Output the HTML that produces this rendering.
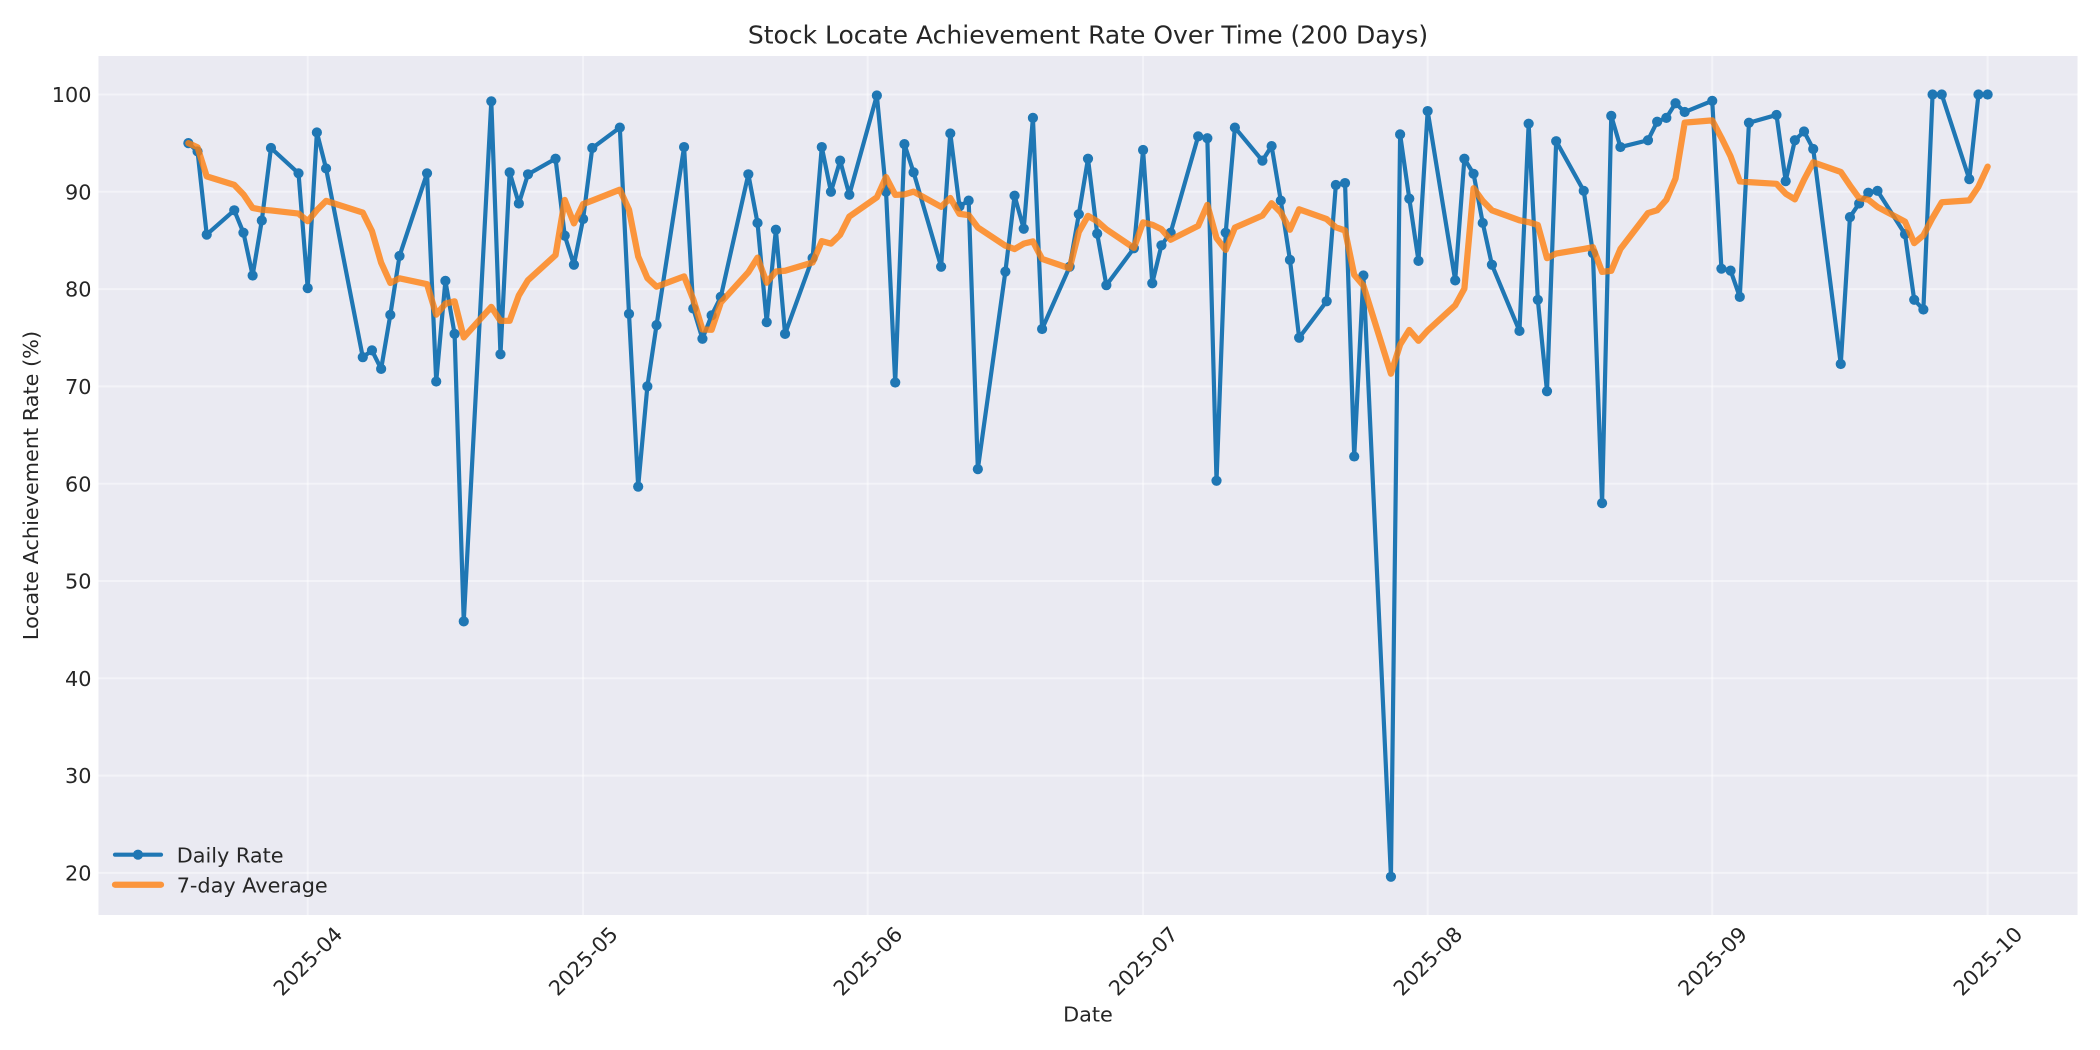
<!DOCTYPE html>
<html>
<head>
<meta charset="utf-8">
<style>
  html, body { margin: 0; padding: 0; background: #ffffff; }
  body { width: 2100px; height: 1050px; overflow: hidden; }
  svg { display: block; }
  text { font-family: "DejaVu Sans", "Liberation Sans", sans-serif; fill: #262626; }
</style>
</head>
<body>
<svg id="chart" width="2100" height="1050" viewBox="0 0 2100 1050" xmlns="http://www.w3.org/2000/svg">
  <rect x="0" y="0" width="2100" height="1050" fill="#ffffff"/>
  <!-- axes background -->
  <rect x="98.5" y="56" width="1979" height="859" fill="#EAEAF2"/>
  <g id="grid" stroke="#ffffff" stroke-opacity="0.45" stroke-width="2"></g>
  <g id="series"></g>

  <!-- Title -->
  <text x="1088" y="43.3" font-size="25" text-anchor="middle">Stock Locate Achievement Rate Over Time (200 Days)</text>

  <!-- Y tick labels -->
  <g font-size="20.8" text-anchor="end">
    <text x="91.5" y="102.1">100</text>
    <text x="91.5" y="199.4">90</text>
    <text x="91.5" y="296.7">80</text>
    <text x="91.5" y="394.0">70</text>
    <text x="91.5" y="491.3">60</text>
    <text x="91.5" y="588.6">50</text>
    <text x="91.5" y="685.9">40</text>
    <text x="91.5" y="783.2">30</text>
    <text x="91.5" y="880.5">20</text>
  </g>

  <!-- X tick labels (rotated 45) -->
  <g font-size="20.8" text-anchor="middle">
    <text x="307.7" y="968.5" transform="rotate(-45 307.7 961)">2025-04</text>
    <text x="583.1" y="968.5" transform="rotate(-45 583.1 961)">2025-05</text>
    <text x="867.7" y="968.5" transform="rotate(-45 867.7 961)">2025-06</text>
    <text x="1143.1" y="968.5" transform="rotate(-45 1143.1 961)">2025-07</text>
    <text x="1427.7" y="968.5" transform="rotate(-45 1427.7 961)">2025-08</text>
    <text x="1712.3" y="968.5" transform="rotate(-45 1712.3 961)">2025-09</text>
    <text x="1987.7" y="968.5" transform="rotate(-45 1987.7 961)">2025-10</text>
  </g>

  <!-- Axis labels -->
  <text x="1088" y="1021.7" font-size="20.8" text-anchor="middle">Date</text>
  <text transform="translate(38 485.5) rotate(-90)" font-size="20.8" text-anchor="middle">Locate Achievement Rate (%)</text>

  <!-- Legend -->
  <line x1="115" y1="854.7" x2="161" y2="854.7" stroke="#1f77b4" stroke-width="4.2" stroke-linecap="round"/>
  <circle cx="138" cy="854.7" r="5.1" fill="#1f77b4"/>
  <text x="176.7" y="862.3" font-size="20.8">Daily Rate</text>
  <line x1="115" y1="884.7" x2="161" y2="884.7" stroke="#ff7f0e" stroke-opacity="0.8" stroke-width="6.25" stroke-linecap="round"/>
  <text x="176.7" y="892.3" font-size="20.8">7-day Average</text>
</svg>

<script>
(function(){
  var data = [
    [-13,95.0],[-12,94.15],[-11,85.6],[-8,88.1],[-7,85.8],[-6,81.4],[-5,87.05],[-4,94.5],
    [-1,91.9],[0,80.1],[1,96.1],[2,92.4],
    [6,73.0],[7,73.7],[8,71.8],[9,77.35],[10,83.4],
    [13,91.9],[14,70.5],[15,80.85],[16,75.4],[17,45.85],
    [20,99.3],[21,73.3],[22,92.0],[23,88.8],[24,91.8],
    [27,93.4],[28,85.5],[29,82.5],[30,87.2],[31,94.5],
    [34,96.6],[35,77.45],[36,59.7],[37,70.0],[38,76.3],
    [41,94.6],[42,78.0],[43,74.9],[44,77.3],[45,79.2],
    [48,91.8],[49,86.8],[50,76.6],[51,86.1],[52,75.4],
    [55,83.2],[56,94.6],[57,90.0],[58,93.2],[59,89.7],
    [62,99.9],[63,90.0],[64,70.4],[65,94.9],[66,92.0],
    [69,82.3],[70,96.0],[71,88.5],[72,89.1],[73,61.5],
    [76,81.8],[77,89.6],[78,86.2],[79,97.6],[80,75.9],
    [83,82.3],[84,87.7],[85,93.4],[86,85.7],[87,80.4],
    [90,84.2],[91,94.3],[92,80.6],[93,84.5],[94,85.8],
    [97,95.7],[98,95.5],[99,60.3],[100,85.8],[101,96.6],
    [104,93.2],[105,94.7],[106,89.1],[107,83.0],[108,75.0],
    [111,78.75],[112,90.7],[113,90.9],[114,62.8],[115,81.4],
    [118,19.6],[119,95.9],[120,89.3],[121,82.9],[122,98.3],
    [125,80.9],[126,93.4],[127,91.85],[128,86.8],[129,82.5],
    [132,75.7],[133,97.0],[134,78.9],[135,69.5],[136,95.2],
    [139,90.1],[140,83.7],[141,58.0],[142,97.8],[143,94.6],
    [146,95.3],[147,97.2],[148,97.6],[149,99.1],[150,98.2],
    [153,99.35],[154,82.1],[155,81.9],[156,79.2],[157,97.1],
    [160,97.9],[161,91.1],[162,95.3],[163,96.2],[164,94.4],
    [167,72.3],[168,87.4],[169,88.8],[170,89.9],[171,90.1],
    [174,85.65],[175,78.9],[176,77.9],[177,100],[178,100],
    [181,91.3],[182,100],[183,100]
  ];
  function X(d){ return 307.7 + d*9.18; }
  function Y(v){ return 94.5 + (100 - v)*9.73; }
  var NS = "http://www.w3.org/2000/svg";

  // grid
  var grid = document.getElementById('grid');
  for (var v = 20; v <= 100; v += 10) {
    var l = document.createElementNS(NS, 'line');
    l.setAttribute('x1', 98.5); l.setAttribute('x2', 2077.5);
    l.setAttribute('y1', Y(v)); l.setAttribute('y2', Y(v));
    grid.appendChild(l);
  }
  var months = [0,30,61,91,122,153,183];
  months.forEach(function(d){
    var l = document.createElementNS(NS, 'line');
    l.setAttribute('x1', X(d)); l.setAttribute('x2', X(d));
    l.setAttribute('y1', 56); l.setAttribute('y2', 915);
    grid.appendChild(l);
  });

  var g = document.getElementById('series');
  // blue line
  var pts = data.map(function(p){ return X(p[0]).toFixed(2) + ',' + Y(p[1]).toFixed(2); }).join(' ');
  var pl = document.createElementNS(NS, 'polyline');
  pl.setAttribute('points', pts);
  pl.setAttribute('fill', 'none');
  pl.setAttribute('stroke', '#1f77b4');
  pl.setAttribute('stroke-width', '4.2');
  pl.setAttribute('stroke-linejoin', 'round');
  pl.setAttribute('stroke-linecap', 'round');
  g.appendChild(pl);
  data.forEach(function(p){
    var c = document.createElementNS(NS, 'circle');
    c.setAttribute('cx', X(p[0]).toFixed(2));
    c.setAttribute('cy', Y(p[1]).toFixed(2));
    c.setAttribute('r', '5.1');
    c.setAttribute('fill', '#1f77b4');
    g.appendChild(c);
  });
  // rolling 7 average
  var rp = [];
  for (var i = 0; i < data.length; i++) {
    var s = 0, n = 0;
    for (var j = Math.max(0, i-6); j <= i; j++) { s += data[j][1]; n++; }
    rp.push(X(data[i][0]).toFixed(2) + ',' + Y(s/n).toFixed(2));
  }
  var ol = document.createElementNS(NS, 'polyline');
  ol.setAttribute('points', rp.join(' '));
  ol.setAttribute('fill', 'none');
  ol.setAttribute('stroke', '#ff7f0e');
  ol.setAttribute('stroke-opacity', '0.8');
  ol.setAttribute('stroke-width', '6.25');
  ol.setAttribute('stroke-linejoin', 'round');
  ol.setAttribute('stroke-linecap', 'round');
  g.appendChild(ol);
})();
</script>
</body>
</html>
